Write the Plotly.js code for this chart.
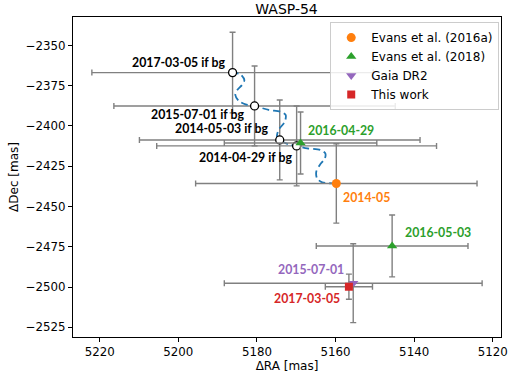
<!DOCTYPE html>
<html>
<head>
<meta charset="utf-8">
<script src="https://cdn.plot.ly/plotly-3.0.1.min.js"></script>
<style>
  html, body { margin: 0; padding: 0; background: #fff; }
  #chart { width: 513px; height: 374px; }
</style>
</head>
<body>
<div id="chart"></div>
<script>
// predicted positions if the companion were a background star
const bgLabels = ['2017-03-05 if bg', '2015-07-01 if bg', '2014-05-03 if bg', '2014-04-29 if bg'];
const bgRa = [5186.2, 5180.6, 5174.2, 5169.9];
const bgDec = [-2366.9, -2387.6, -2408.7, -2412.4];
const bgRaErr = [35.8, 35.8, 35.7, 35.6];
const bgDecErr = [25.0, 24.8, 24.8, 24.8];

// background track
const trackRa = [5159.8, 5163.4, 5164.7, 5164.9, 5164.0, 5162.7, 5162.6, 5163.8, 5167.2, 5169.9,
  5171.9, 5174.2, 5174.9, 5174.5, 5172.9, 5172.7, 5174.0, 5177.0, 5180.6, 5182.9,
  5184.6, 5185.5, 5185.0, 5183.8, 5183.2, 5184.2, 5186.2];
const trackDec = [-2435.7, -2435.0, -2432.6, -2428.4, -2424.2, -2420.1, -2417.0, -2414.9, -2413.9, -2412.4,
  -2411.5, -2408.7, -2406.7, -2402.5, -2397.4, -2393.2, -2391.2, -2390.1, -2387.6, -2386.6,
  -2384.5, -2380.8, -2377.7, -2374.6, -2371.5, -2368.0, -2366.9];

// measurements
const evans16Label = ['2014-05'];
const evans16Ra = [5159.8];
const evans16Dec = [-2435.7];
const evans16RaErr = [35.8];
const evans16DecErr = [24.6];

const evans18Label = ['2016-04-29', '2016-05-03'];
const evans18Ra = [5168.9, 5145.6];
const evans18Dec = [-2410.6, -2474.5];
const evans18RaErr = [19.4, 19.3];
const evans18DecErr = [19.2, 19.2];

const gaiaLabel = ['2015-07-01'];
const gaiaRa = [5155.5];
const gaiaDec = [-2497.6];
const gaiaRaErr = [32.8];
const gaiaDecErr = [24.5];

const thisLabel = ['2017-03-05'];
const thisRa = [5156.6];
const thisDec = [-2499.8];
const thisRaErr = [6.0];
const thisDecErr = [7.8];

const xTicks = [5220, 5200, 5180, 5160, 5140, 5120];
const yTicks = [-2350, -2375, -2400, -2425, -2450, -2475, -2500, -2525];

const errGray = '#808080';
function errs(arr) {
  return {type: 'data', array: arr, visible: true, color: errGray, thickness: 1.4, width: 3};
}
function measTrace(name, ra, dec, raErr, decErr, color, symbol, size) {
  return {
    type: 'scatter', mode: 'markers', name: name,
    x: ra, y: dec,
    error_x: errs(raErr), error_y: errs(decErr),
    marker: {color: color, symbol: symbol, size: size},
    cliponaxis: false
  };
}

const data = [
  { // error bars of the background positions
    type: 'scatter', mode: 'markers', showlegend: false, hoverinfo: 'skip',
    x: bgRa, y: bgDec,
    error_x: errs(bgRaErr), error_y: errs(bgDecErr),
    marker: {size: 8, opacity: 0}
  },
  {
    type: 'scatter', mode: 'lines', showlegend: false,
    x: trackRa, y: trackDec,
    line: {color: '#1f77b4', width: 1.8, dash: '7px,4px', shape: 'spline', smoothing: 0.8}
  },
  {
    type: 'scatter', mode: 'markers', showlegend: false,
    x: bgRa, y: bgDec,
    marker: {size: 8, color: '#ffffff', line: {color: '#000000', width: 1.3}}
  },
  measTrace('Evans et al. (2016a)', evans16Ra, evans16Dec, evans16RaErr, evans16DecErr, '#ff7f0e', 'circle', 9),
  measTrace('Evans et al. (2018)', evans18Ra, evans18Dec, evans18RaErr, evans18DecErr, '#2ca02c', 'triangle-up', 9),
  measTrace('Gaia DR2', gaiaRa, gaiaDec, gaiaRaErr, gaiaDecErr, '#9467bd', 'triangle-down', 9),
  measTrace('This work', thisRa, thisDec, thisRaErr, thisDecErr, '#d62728', 'square', 8)
];

const labelFont = 'Lato, "Liberation Sans", sans-serif';
function label(text, x, y, color, anchor, dx, dy) {
  return {
    text: '<b>' + text + '</b>', x: x, y: y, xref: 'x', yref: 'y',
    showarrow: false, xanchor: anchor, yanchor: 'middle',
    xshift: dx, yshift: dy,
    font: {family: labelFont, size: 12.3, color: color}
  };
}

const annotations = [
  label(bgLabels[0], bgRa[0], bgDec[0], '#000', 'right', -6, 10),
  label(bgLabels[1], bgRa[1], bgDec[1], '#000', 'right', -9, -9),
  label(bgLabels[2], bgRa[2], bgDec[2], '#000', 'right', -10, 11),
  label(bgLabels[3], bgRa[3], bgDec[3], '#000', 'right', -3, -12),
  label(evans18Label[0], evans18Ra[0], evans18Dec[0], '#2ca02c', 'left', 5, 13),
  label(evans16Label[0], evans16Ra[0], evans16Dec[0], '#ff7f0e', 'left', 5, -14),
  label(evans18Label[1], evans18Ra[1], evans18Dec[1], '#2ca02c', 'left', 11, 13),
  label(gaiaLabel[0], gaiaRa[0], gaiaDec[0], '#9467bd', 'right', -7, 14),
  label(thisLabel[0], thisRa[0], thisDec[0], '#d62728', 'right', -7, -12)
];

const axisCommon = {
  showgrid: false, zeroline: false,
  showline: true, linecolor: '#000', linewidth: 1, mirror: true,
  ticks: 'outside', ticklen: 4, tickcolor: '#000', tickwidth: 1,
  tickfont: {family: 'DejaVu Sans', size: 11.8, color: '#000'}
};

const layout = {
  width: 513, height: 374,
  margin: {l: 73, r: 12, t: 17, b: 37},
  paper_bgcolor: '#fff', plot_bgcolor: '#fff',
  font: {family: 'DejaVu Sans', color: '#000'},
  title: {text: 'WASP-54', x: 0.5585, xanchor: 'center', y: 0.976, yanchor: 'middle',
          font: {family: 'DejaVu Sans', size: 14, color: '#000'}},
  xaxis: Object.assign({}, axisCommon, {
    range: [5226.8, 5117.9], tickvals: xTicks,
    title: {text: 'ΔRA [mas]', standoff: 2, font: {family: 'DejaVu Sans', size: 12}}
  }),
  yaxis: Object.assign({}, axisCommon, {
    range: [-2531, -2332.4], tickvals: yTicks,
    title: {text: 'ΔDec [mas]', standoff: 4, font: {family: 'DejaVu Sans', size: 12}}
  }),
  legend: {
    x: 0.601, y: 0.984, xanchor: 'left', yanchor: 'top',
    bgcolor: 'rgba(255,255,255,0.85)', bordercolor: '#cccccc', borderwidth: 1,
    font: {family: 'DejaVu Sans', size: 12, color: '#000'}
  },
  annotations: annotations,
  showlegend: true
};

Plotly.newPlot('chart', data, layout, {displayModeBar: false, staticPlot: true});
</script>
</body>
</html>
